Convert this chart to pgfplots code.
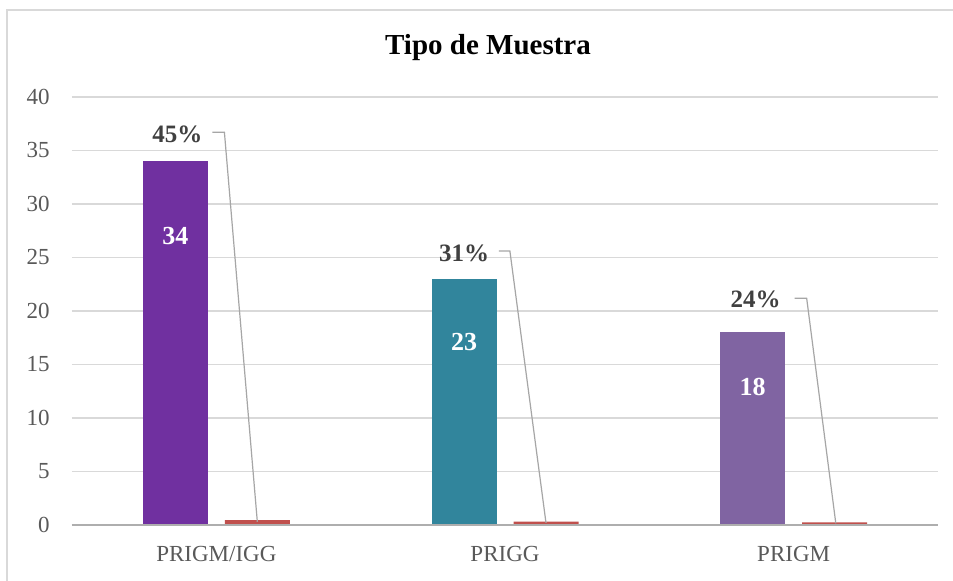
\documentclass[border=0pt]{standalone}
\usepackage{pgfplots}
\pgfplotsset{compat=1.18}
\usepackage{fontspec}
\setmainfont{Liberation Serif}
\definecolor{cPurple}{HTML}{7030A0}
\definecolor{cTeal}{HTML}{31859C}
\definecolor{cLav}{HTML}{8064A2}
\definecolor{cRed}{HTML}{C0504D}
\definecolor{cGrid}{HTML}{D9D9D9}
\definecolor{cTick}{HTML}{595959}
\definecolor{cLab}{HTML}{404040}
\definecolor{cLead}{HTML}{A6A6A6}
\begin{document}
\begin{tikzpicture}
\useasboundingbox (0,0) rectangle (476.5pt,290.5pt);
\fill[white] (0,0) rectangle (476.5pt,290.5pt);
\draw[cGrid, line width=0.9pt] (3.5pt,0) -- (3.5pt,285.5pt) -- (476.5pt,285.5pt);
\node[font=\fontsize{14.5}{16}\selectfont\bfseries] at (244pt,266.5pt) {Tipo de Muestra};
\begin{axis}[
  at={(36pt,28pt)}, anchor=south west,
  scale only axis, width=433pt, height=214pt,
  xmin=-0.5, xmax=2.5, ymin=0, ymax=40,
  ytick={0,5,...,40},
  xtick={0,1,2},
  xticklabels={PRIGM/IGG, PRIGG, PRIGM},
  axis line style={draw=none},
  major tick length=0pt,
  ymajorgrids, grid style={cGrid, line width=0.6pt},
  /pgf/number format/assume math mode=true,
  tick label style={font=\fontsize{11.5}{13}\selectfont, text=cTick, inner sep=0pt},
  yticklabel style={anchor=east, xshift=-11pt},
  xticklabel style={anchor=base, yshift=-18.5pt},
  ybar, bar width=32.5pt,
  clip=false,
]
\addplot[draw=none, fill=cPurple, bar shift=-20.5pt] coordinates {(0,34)};
\addplot[draw=none, fill=cTeal, bar shift=-20.5pt] coordinates {(1,23)};
\addplot[draw=none, fill=cLav, bar shift=-20.5pt] coordinates {(2,18)};
\addplot[draw=none, fill=cRed, bar shift=20.5pt] coordinates {(0,0.45) (1,0.31) (2,0.24)};
\draw[cGrid!80!black, line width=0.6pt] (axis cs:-0.5,0) -- (axis cs:2.5,0);
% value labels
\node[text=white, font=\fontsize{13}{15}\selectfont\bfseries, xshift=-20.5pt] at (axis cs:0,27.0) {34};
\node[text=white, font=\fontsize{13}{15}\selectfont\bfseries, xshift=-20.5pt] at (axis cs:1,17.1) {23};
\node[text=white, font=\fontsize{13}{15}\selectfont\bfseries, xshift=-20.5pt] at (axis cs:2,12.9) {18};
% percent labels with leader lines
\draw[cLead, line width=0.6pt] (axis cs:-0.014,36.7) -- (axis cs:0.028,36.7) -- (axis cs:0.142,0.3);
\draw[cLead, line width=0.6pt] (axis cs:0.979,25.6) -- (axis cs:1.017,25.6) -- (axis cs:1.142,0.2);
\draw[cLead, line width=0.6pt] (axis cs:2.003,21.2) -- (axis cs:2.045,21.2) -- (axis cs:2.146,0.15);
\node[text=cLab, font=\fontsize{12.5}{14}\selectfont\bfseries] at (axis cs:-0.135,36.5) {45\%};
\node[text=cLab, font=\fontsize{12.5}{14}\selectfont\bfseries] at (axis cs:0.858,25.4) {31\%};
\node[text=cLab, font=\fontsize{12.5}{14}\selectfont\bfseries] at (axis cs:1.868,21.1) {24\%};
\end{axis}
\end{tikzpicture}
\end{document}
